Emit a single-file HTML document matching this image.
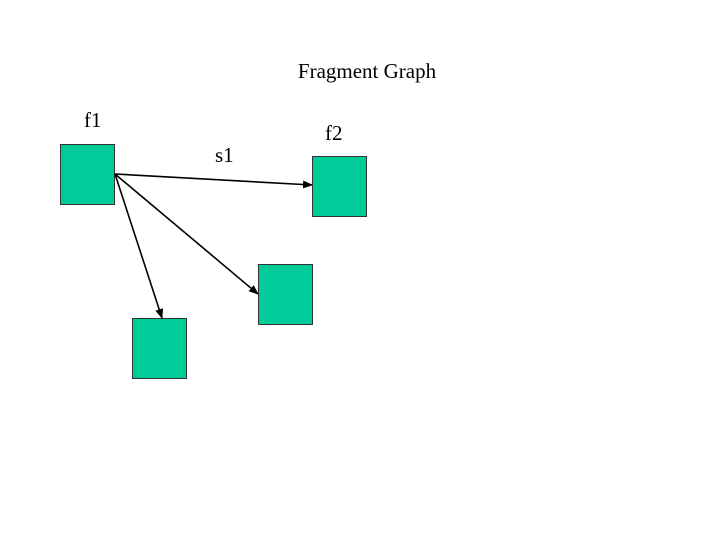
<!DOCTYPE html>
<html><head><style>
html,body{margin:0;padding:0;background:#fff;}
svg{display:block;}
text{font-family:"Liberation Serif",serif;font-size:21px;fill:#000;}
</style></head><body>
<svg width="720" height="540" viewBox="0 0 720 540" xmlns="http://www.w3.org/2000/svg">
<defs><marker id="a" markerWidth="10" markerHeight="8" refX="9" refY="4" orient="auto" markerUnits="userSpaceOnUse"><path d="M0,0 L10,4 L0,8 Z" fill="#000"/></marker></defs>
<text x="367" y="78" text-anchor="middle">Fragment Graph</text>
<text x="84" y="127">f1</text>
<text x="215" y="162">s1</text>
<text x="325" y="140">f2</text>
<g fill="#00CC99" stroke="#333" stroke-width="1">
<rect x="60.5" y="144.5" width="54" height="60"/>
<rect x="312.5" y="156.5" width="54" height="60"/>
<rect x="258.5" y="264.5" width="54" height="60"/>
<rect x="132.5" y="318.5" width="54" height="60"/>
</g>
<g stroke="#000" stroke-width="1.6" marker-end="url(#a)">
<line x1="115" y1="174" x2="312" y2="185"/>
<line x1="115" y1="174" x2="258" y2="294"/>
<line x1="115" y1="174" x2="162" y2="318"/>
</g>
</svg>
</body></html>
